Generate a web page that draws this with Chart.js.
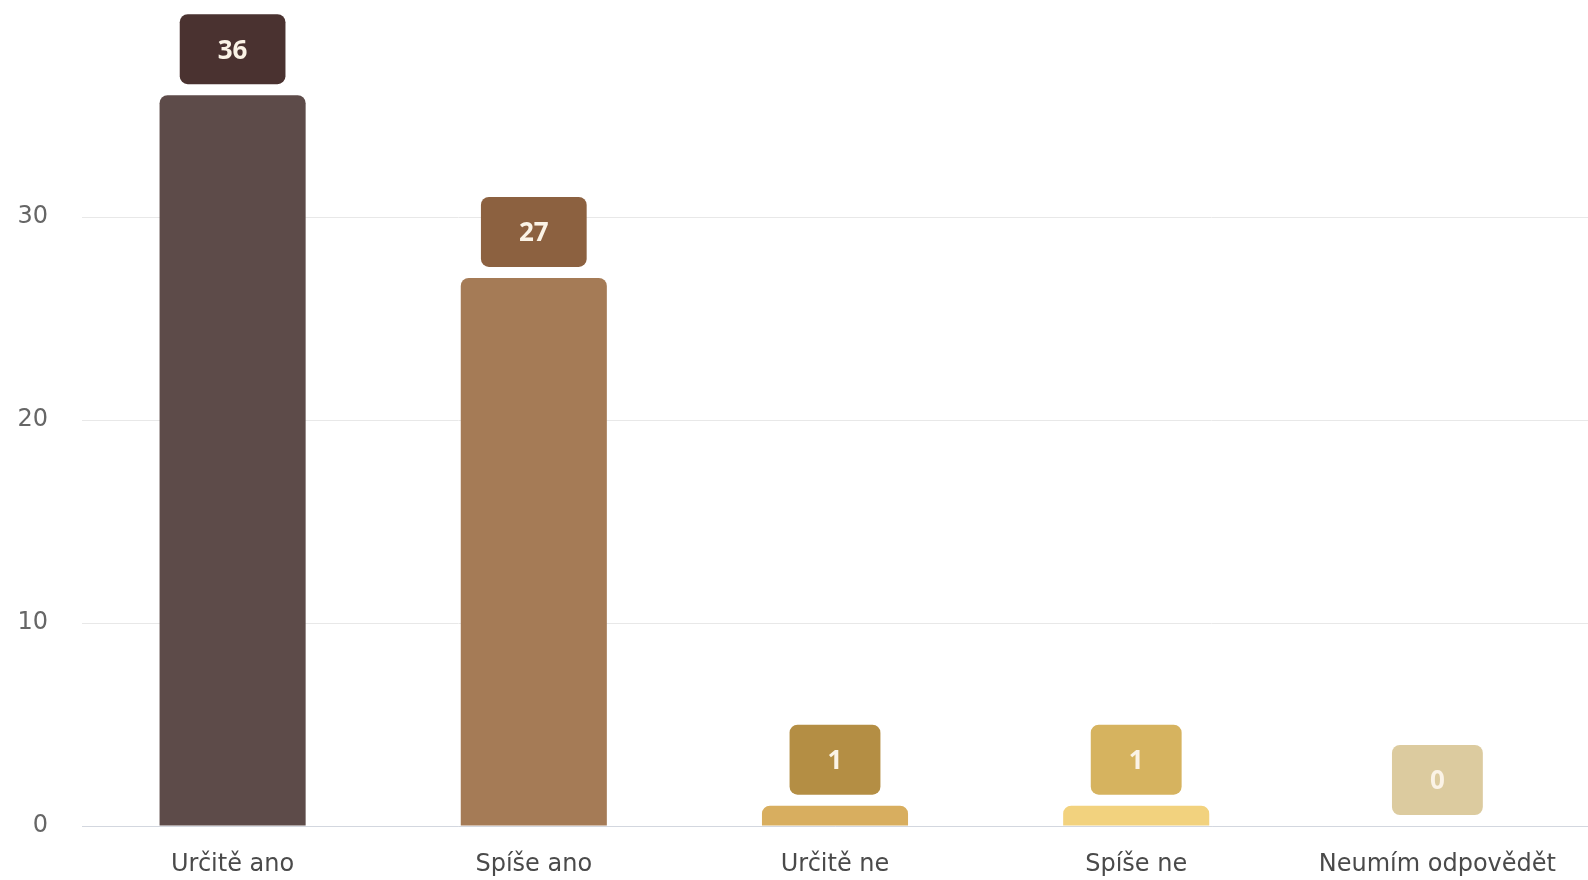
<!DOCTYPE html>
<html>
<head>
<meta charset="utf-8">
<script src="https://cdn.jsdelivr.net/npm/chart.js@4"></script>
<style>
  html, body { margin: 0; padding: 0; background: #fff; }
  #wrap { width: 1588px; height: 880px; }
</style>
</head>
<body>
<div id="wrap"><canvas id="chart"></canvas></div>
<script>
const labels = ['Určitě ano', 'Spíše ano', 'Určitě ne', 'Spíše ne', 'Neumím odpovědět']
const values = [36, 27, 1, 1, 0]
const yTicks = [0, 10, 20, 30]
const barColors = ['#5d4b49', '#a57b56', '#d8ae5f', '#f2d27e', '#e8d9b0']
const labelColors = ['#4a3230', '#8c6140', '#b48e44', '#d6b35f', '#dccb9f']

// draws the value boxes above each bar
const valueBoxes = {
  id: 'valueBoxes',
  afterDatasetsDraw(chart) {
    const ctx = chart.ctx
    const meta = chart.getDatasetMeta(0)
    ctx.save()
    ctx.font = 'bold 26px "Open Sans"'
    ctx.textAlign = 'center'
    ctx.textBaseline = 'middle'
    meta.data.forEach((bar, i) => {
      const txt = String(values[i])
      const w = ctx.measureText(txt).width + 76
      const h = 70
      const bottom = bar.y - 11
      ctx.fillStyle = labelColors[i]
      ctx.beginPath()
      ctx.roundRect(bar.x - w / 2, bottom - h, w, h, 8)
      ctx.fill()
      ctx.fillStyle = '#fbf3e6'
      ctx.fillText(txt, bar.x, bottom - h / 2 + 2)
    })
    ctx.restore()
  }
}

new Chart('chart', {
  type: 'bar',
  data: {
    labels: labels,
    datasets: [{
      data: values,
      backgroundColor: barColors,
      borderRadius: 8,
      borderSkipped: 'start',
      categoryPercentage: 1,
      barPercentage: 0.485
    }]
  },
  options: {
    responsive: true,
    maintainAspectRatio: false,
    animation: false,
    layout: { padding: { top: 14, right: 0, bottom: 0, left: 0 } },
    plugins: {
      legend: { display: false },
      tooltip: { enabled: false }
    },
    scales: {
      x: {
        afterFit(scale) { scale.height = 54 },
        grid: { display: false },
        border: { color: '#d3d7df', width: 1 },
        ticks: { color: '#4a4a4a', padding: 16, maxRotation: 0, font: { family: 'DejaVu Sans', size: 24 } }
      },
      y: {
        min: 0,
        max: 40,
        afterBuildTicks(scale) {
          scale.ticks = yTicks.map(v => ({ value: v }))
        },
        afterFit(scale) {
          scale.width = 82
          scale.paddingTop = 0
          scale.paddingBottom = 0
        },
        grid: { color: '#e8e8e8', drawTicks: false },
        border: { display: false },
        ticks: { color: '#666666', padding: 34, font: { family: 'DejaVu Sans', size: 24 } }
      }
    }
  },
  plugins: [valueBoxes]
})
</script>
</body>
</html>
